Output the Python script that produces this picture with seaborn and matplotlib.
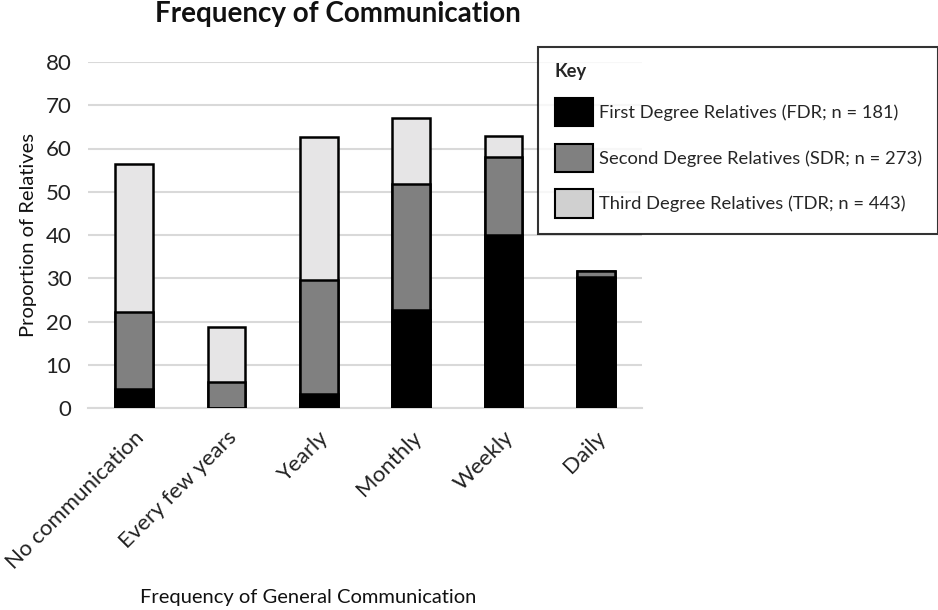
import matplotlib
matplotlib.use("Agg")
import matplotlib.pyplot as plt
from matplotlib.patches import Patch
import seaborn as sns
import pandas as pd
import numpy as np

categories = ["No communication", "Every few years", "Yearly", "Monthly", "Weekly", "Daily"]
fdr = [4.5, 0.0, 3.2, 22.7, 39.9, 30.3]
sdr = [17.6, 6.0, 26.5, 29.1, 18.1, 1.3]
tdr = [34.4, 12.7, 33.0, 15.2, 4.8, 0.0]
legend_labels = ["First Degree Relatives (FDR; n = 181)",
                 "Second Degree Relatives (SDR; n = 273)",
                 "Third Degree Relatives (TDR; n = 443)"]
yticks = [0, 10, 20, 30, 40, 50, 60, 70, 80]

sns.set_theme(style="white")
plt.rcParams["font.family"] = ["Lato", "DejaVu Sans"]

df = pd.DataFrame({"cat": categories, "fdr": fdr, "sdr": sdr, "tdr": tdr})
df["lvl1"] = df["fdr"]
df["lvl2"] = df["fdr"] + df["sdr"]
df["lvl3"] = df["fdr"] + df["sdr"] + df["tdr"]

fig = plt.figure(figsize=(9.38, 6.10), dpi=100)
ax = fig.add_axes([88 / 938, 1 - 408 / 610, 554 / 938, 346 / 610])

c_fdr, c_sdr, c_tdr = "#000000", "#808080", "#e6e5e6"
w = 0.41
for col, color in [("lvl3", c_tdr), ("lvl2", c_sdr), ("lvl1", c_fdr)]:
    sns.barplot(data=df, x="cat", y=col, color=color, width=w, ax=ax,
                edgecolor="black", linewidth=1.8, saturation=1, zorder=3)

ax.set_ylim(0, 80)
ax.set_yticks(yticks)
ax.set_xlim(-0.5, len(categories) - 0.5)
ax.yaxis.grid(True, color="#d9d9d9", linewidth=1.5, zorder=0)
ax.set_axisbelow(True)
for s in ["top", "right", "left"]:
    ax.spines[s].set_visible(False)
ax.spines["bottom"].set_color("#d9d9d9")
ax.spines["bottom"].set_linewidth(1.5)
ax.tick_params(axis="y", labelsize=16, length=0, pad=12, colors="#222222")
ax.tick_params(axis="x", length=0, pad=14)
ax.set_xticks(range(len(categories)))
ax.set_xticklabels(categories, rotation=45, ha="right", rotation_mode="anchor",
                   fontsize=16, color="#222222")
ax.set_xlabel("")
ax.set_ylabel("Proportion of Relatives", fontsize=14.5, labelpad=6, color="#111111")

fig.text(338 / 938, 1 - 14 / 610, "Frequency of Communication", ha="center", va="center",
         fontsize=20, fontweight="bold", color="#111111")
fig.text(308 / 938, 1 - 598 / 610, "Frequency of General Communication", ha="center",
         va="center", fontsize=14.5, color="#111111")

handles = [Patch(facecolor=c_fdr, edgecolor="black", linewidth=1.5),
           Patch(facecolor=c_sdr, edgecolor="black", linewidth=1.5),
           Patch(facecolor="#d0d0d0", edgecolor="black", linewidth=1.5)]
leg = fig.legend(handles, legend_labels, title="Key", loc="upper left",
                 bbox_to_anchor=(538 / 938, 1 - 47 / 610), fontsize=13.2,
                 title_fontproperties={"weight": "bold", "size": 13.2},
                 alignment="left", frameon=True, fancybox=False,
                 handlelength=2.1, handleheight=2.0, handletextpad=0.3,
                 labelspacing=0.95, borderpad=0.9, borderaxespad=0)
leg.get_frame().set_edgecolor("black")
leg.get_frame().set_linewidth(1.5)

fig.savefig("out.png", dpi=100)
